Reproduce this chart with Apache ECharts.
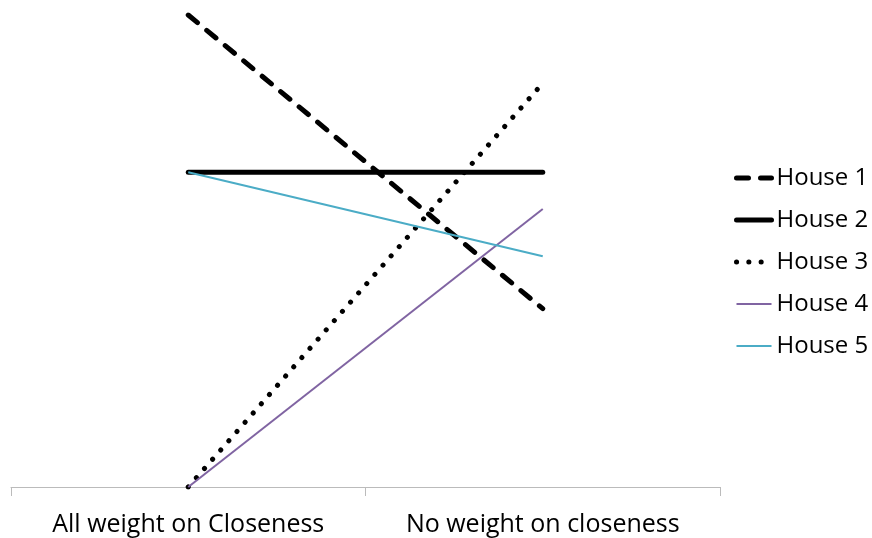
<!DOCTYPE html>
<html>
<head>
<meta charset="utf-8">
<script src="https://cdn.jsdelivr.net/npm/echarts@6/dist/echarts.min.js"></script>
<style>
  html, body { margin: 0; padding: 0; background: #fff; }
  #chart { width: 872px; height: 538px; }
</style>
</head>
<body>
<div id="chart"></div>
<script>
// Scenario labels along the x axis
const categories = ['All weight on Closeness', 'No weight on closeness'];

// Scores of each house under the two weightings
const house1 = [9.0, 3.4];
const house2 = [6.0, 6.0];
const house3 = [0.0, 7.7];
const house4 = [0.0, 5.3];
const house5 = [6.0, 4.4];

const seriesNames = ['House 1', 'House 2', 'House 3', 'House 4', 'House 5'];

const styles = [
  { color: '#000000', width: 5, type: [12, 12], cap: 'round' },
  { color: '#000000', width: 5, type: 'solid', cap: 'round' },
  { color: '#000000', width: 5, type: [0.1, 12.2], cap: 'round' },
  { color: '#8064A2', width: 2, type: 'solid', cap: 'butt' },
  { color: '#4BACC6', width: 2, type: 'solid', cap: 'butt' }
];

const values = [house1, house2, house3, house4, house5];

const font = '"Open Sans", "Noto Sans", sans-serif';

const chart = echarts.init(document.getElementById('chart'), null, { renderer: 'canvas' });

chart.setOption({
  animation: false,
  backgroundColor: '#ffffff',
  grid: { left: 11, right: 152, top: 15, bottom: 51, containLabel: false },
  legend: {
    orient: 'vertical',
    left: 729,
    top: 161,
    itemWidth: 35,
    itemHeight: 24,
    itemGap: 18,
    textStyle: { fontFamily: font, fontSize: 24, color: '#000', lineHeight: 24 },
    data: seriesNames.map((n, i) => ({
      name: n,
      itemStyle: { opacity: 0 },
      lineStyle: { width: styles[i].width, type: styles[i].type, cap: styles[i].cap, color: styles[i].color }
    }))
  },
  xAxis: {
    type: 'category',
    data: categories,
    boundaryGap: true,
    axisLine: { show: true, lineStyle: { color: '#BBBBBB', width: 1 } },
    axisTick: { show: true, length: 9, inside: false, lineStyle: { color: '#BBBBBB' } },
    axisLabel: { fontFamily: font, fontSize: 25, color: '#000', margin: 25, interval: 0, hideOverlap: false },
    splitLine: { show: false }
  },
  yAxis: {
    type: 'value',
    min: 0,
    max: 9,
    interval: 3,
    show: false,
    splitLine: { show: false }
  },
  series: seriesNames.map((n, i) => ({
    name: n,
    type: 'line',
    data: values[i],
    symbol: 'none',
    showSymbol: false,
    lineStyle: {
      color: styles[i].color,
      width: styles[i].width,
      type: styles[i].type,
      cap: styles[i].cap
    },
    itemStyle: { color: styles[i].color }
  }))
});
</script>
</body>
</html>
